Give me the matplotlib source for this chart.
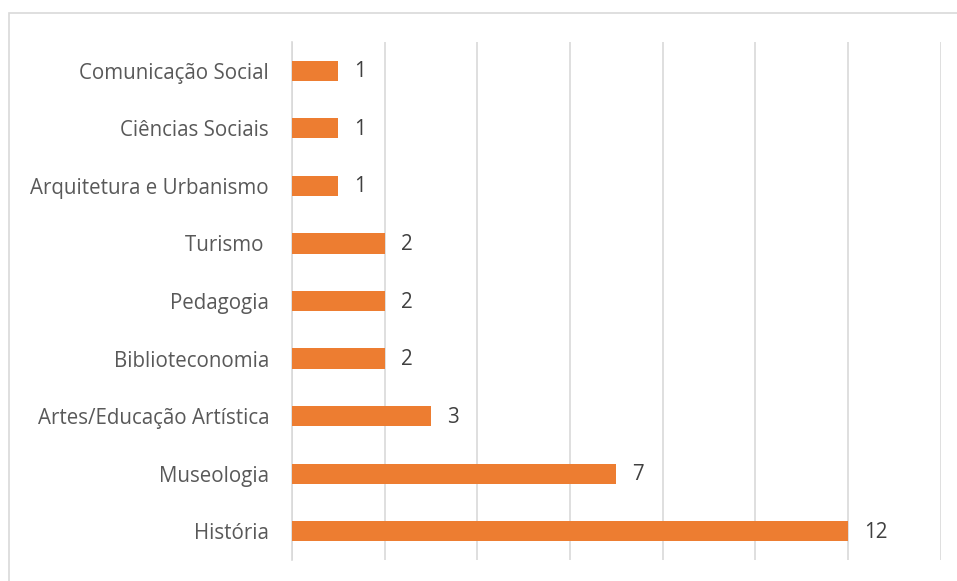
import matplotlib
matplotlib.use("Agg")
import matplotlib.pyplot as plt
from matplotlib.patches import Rectangle

categories = ["História", "Museologia", "Artes/Educação Artística", "Biblioteconomia",
              "Pedagogia", "Turismo ", "Arquitetura e Urbanismo", "Ciências Sociais",
              "Comunicação Social"]
values = [12, 7, 3, 2, 2, 2, 1, 1, 1]

plt.rcParams['font.family'] = ['Open Sans', 'DejaVu Sans']
W, H = 957, 581
fig = plt.figure(figsize=(W/100, H/100), dpi=100)
fig.patch.set_facecolor('white')
fig.patches.append(Rectangle((9/W, -0.1), 1.1, 1 - 13/H + 0.1, transform=fig.transFigure,
                             fill=False, edgecolor='#D9D9D9', linewidth=1.2))
ax = fig.add_axes([292/W, 1 - 560/H, (940.6 - 292)/W, (560 - 42)/H])
y = list(range(len(categories)))
ax.barh(y, values, height=0.35, color='#ED7D31', zorder=3)
ax.set_xlim(0, 14)
ax.set_ylim(-0.5, len(categories) - 0.5)
ax.set_xticks(range(0, 15, 2))
ax.set_xticklabels([])
ax.tick_params(axis='x', length=0)
ax.tick_params(axis='y', length=0, pad=16.5, labelsize=14.8, labelcolor='#595959')
ax.set_yticks(y)
ax.set_yticklabels(categories)
ax.grid(axis='x', color='#D9D9D9', linewidth=1.2, zorder=0)
for s in ['top', 'right', 'bottom']:
    ax.spines[s].set_visible(False)
ax.spines['left'].set_color('#D9D9D9')
ax.spines['left'].set_linewidth(1.2)
for yi, v in zip(y, values):
    ax.annotate(str(v), (v, yi), xytext=(16, -1), textcoords='offset pixels',
                va='center', ha='left', fontsize=14.8, color='#404040')
fig.savefig('out.png', dpi=100)
